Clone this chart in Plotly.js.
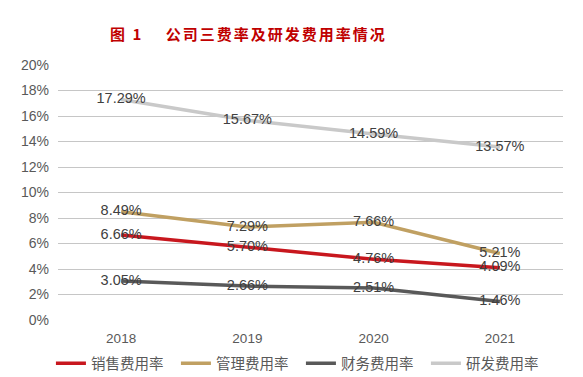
<!DOCTYPE html>
<html>
<head>
<meta charset="utf-8">
<script src="https://cdn.plot.ly/plotly-3.0.1.min.js"></script>
<style>
html,body{margin:0;padding:0;background:#fff;}
#chart{width:583px;height:377px;}
.gtitle{letter-spacing:2px;}
</style>
</head>
<body>
<div id="chart"></div>
<script>
const years = ['2018', '2019', '2020', '2021'];
const seriesNames = ['销售费用率', '管理费用率', '财务费用率', '研发费用率'];
const sales = [6.66, 5.70, 4.76, 4.09];
const admin = [8.49, 7.29, 7.66, 5.21];
const finance = [3.05, 2.66, 2.51, 1.46];
const rnd = [17.29, 15.67, 14.59, 13.57];
const yTicks = [0, 2, 4, 6, 8, 10, 12, 14, 16, 18, 20];
const titleText = '图 1　 公司三费率及研发费用率情况';

const allSeries = [sales, admin, finance, rnd];
const colors = ['#C8171E', '#C0A062', '#595959', '#C9C9C9'];

const traces = [];
allSeries.forEach((s, i) => {
  traces.push({
    type: 'scatter', mode: 'lines', x: years, y: s, name: seriesNames[i],
    line: {color: colors[i], width: 3.5}, hoverinfo: 'skip'
  });
});
allSeries.forEach((s, i) => {
  traces.push({
    type: 'scatter', mode: 'text', x: years, y: s, showlegend: false,
    text: s.map(v => v.toFixed(2) + '%'), textposition: 'middle center',
    textfont: {family: 'Liberation Sans, Arial, sans-serif', size: 14.5, color: '#404040'},
    hoverinfo: 'skip'
  });
});

const layout = {
  width: 583, height: 377,
  margin: {l: 58, r: 20, t: 65, b: 57, autoexpand: false},
  paper_bgcolor: '#fff', plot_bgcolor: '#fff',
  font: {family: 'Liberation Sans, Arial, sans-serif', color: '#595959'},
  title: {
    text: titleText, xref: 'container', yref: 'container',
    x: 110 / 583, xanchor: 'left', y: 1 - 35 / 377, yanchor: 'middle',
    font: {family: 'Noto Sans CJK SC', size: 15, color: '#C00000', weight: 'bold'}
  },
  xaxis: {
    type: 'category', range: [-0.5, 3.5], showgrid: false, zeroline: false,
    showline: false, ticks: 'outside', ticklen: 6, tickcolor: 'rgba(0,0,0,0)',
    tickfont: {size: 13.5, color: '#595959'},
    fixedrange: true, automargin: false
  },
  yaxis: {
    range: [0, 20], tickvals: yTicks, ticktext: yTicks.map(v => v + '%'),
    showgrid: true, gridcolor: '#C6C6C6', gridwidth: 1, zeroline: false,
    showline: false, ticks: '', ticklabelstandoff: 8,
    tickfont: {size: 14, color: '#595959'}, fixedrange: true, automargin: false
  },
  showlegend: true,
  legend: {
    orientation: 'h', x: -0.014, xanchor: 'left', y: -0.17, yanchor: 'middle',
    entrywidth: 80, entrywidthmode: 'pixels', itemwidth: 30,
    font: {family: 'Noto Sans CJK SC', size: 14.5, color: '#595959'},
    traceorder: 'normal', bgcolor: 'rgba(0,0,0,0)'
  }
};

Plotly.newPlot('chart', traces, layout, {displayModeBar: false, staticPlot: true});
</script>
</body>
</html>
